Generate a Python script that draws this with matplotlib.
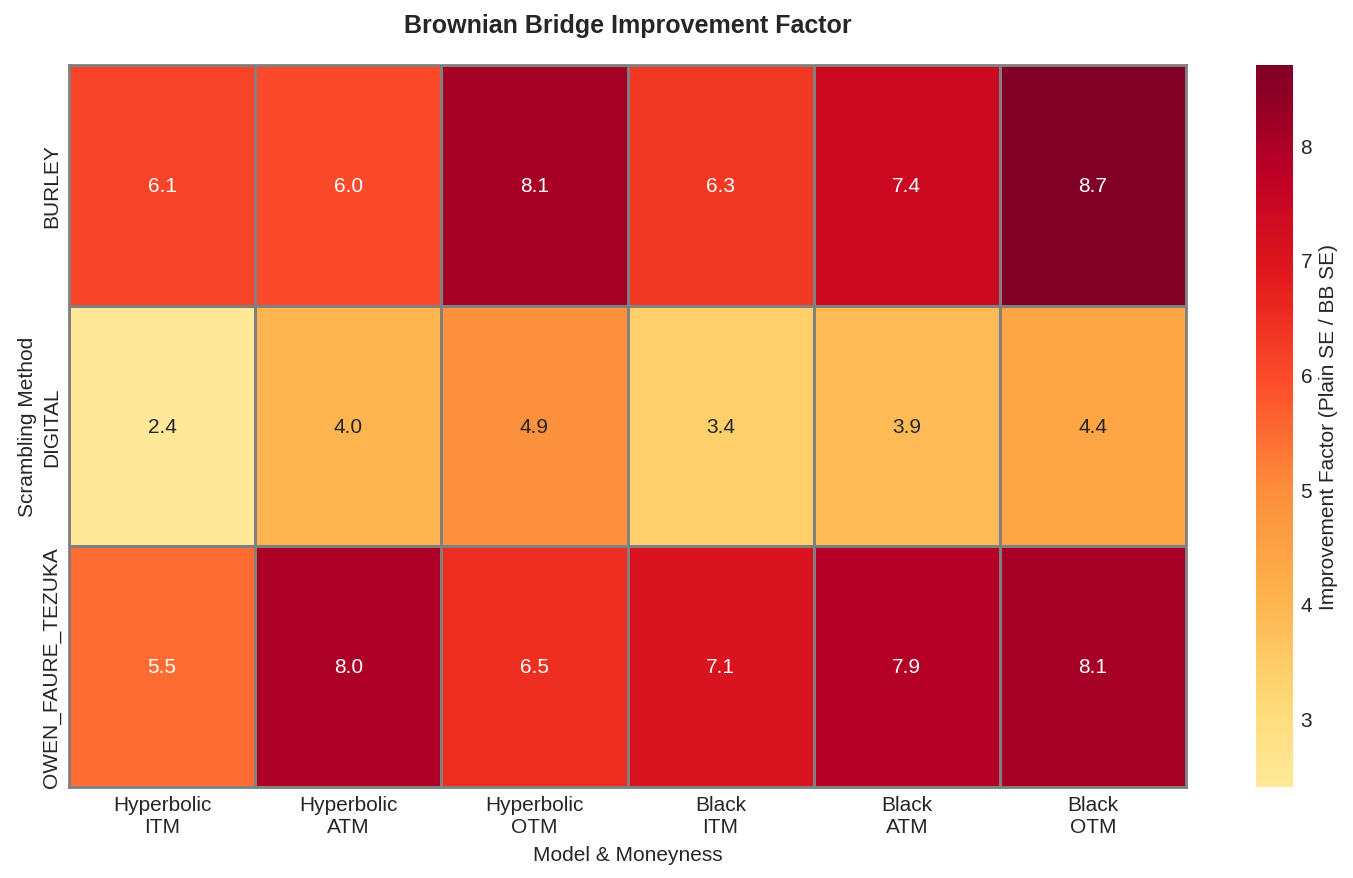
import numpy as np
import pandas as pd
import matplotlib
matplotlib.use("Agg")
import matplotlib.pyplot as plt
import seaborn as sns

# improvement factor (plain SE / BB SE) per scrambling method
methods = ["BURLEY", "DIGITAL", "OWEN_FAURE_TEZUKA"]
cases = ["Hyperbolic\nITM", "Hyperbolic\nATM", "Hyperbolic\nOTM",
         "Black\nITM", "Black\nATM", "Black\nOTM"]
burley = [6.1, 6.0, 8.1, 6.3, 7.4, 8.7]
digital = [2.4, 4.0, 4.9, 3.4, 3.9, 4.4]
owen = [5.5, 8.0, 6.5, 7.1, 7.9, 8.1]

df = pd.DataFrame([burley, digital, owen], index=methods, columns=cases)

sns.set_style("whitegrid")
plt.rcParams['font.family'] = ['Liberation Sans', 'DejaVu Sans']

fig = plt.figure(figsize=(13.53, 8.79), dpi=100)
ax = fig.add_axes([0.051, 0.1035, 0.8256, 0.8214])
cax = fig.add_axes([0.9283, 0.1035, 0.0273, 0.8214])

sns.heatmap(df, ax=ax, cbar_ax=cax, cmap="YlOrRd", center=5,
            annot=True, fmt=".1f", annot_kws={"fontsize": 15},
            linewidths=2, linecolor="gray",
            cbar_kws={"label": "Improvement Factor (Plain SE / BB SE)"})

ax.set_title("Brownian Bridge Improvement Factor", fontsize=18,
             fontweight="bold", pad=24)
ax.set_xlabel("Model & Moneyness", fontsize=15, labelpad=6)
ax.set_ylabel("Scrambling Method", fontsize=15, labelpad=4)
ax.tick_params(axis="x", labelsize=15, length=0, pad=6)
ax.tick_params(axis="y", labelsize=15, length=0, pad=5.5)
plt.setp(ax.get_xticklabels(), rotation=0)
plt.setp(ax.get_yticklabels(), rotation=90, va="center")
for s in ax.spines.values():
    s.set_visible(True)
    s.set_color("gray")
    s.set_linewidth(2)

cax.tick_params(labelsize=15, length=0, pad=5.5)
cax.set_ylabel("Improvement Factor (Plain SE / BB SE)", fontsize=15, labelpad=5)
cax.set_yticks([3, 4, 5, 6, 7, 8])

fig.savefig("out.png", dpi=100)
